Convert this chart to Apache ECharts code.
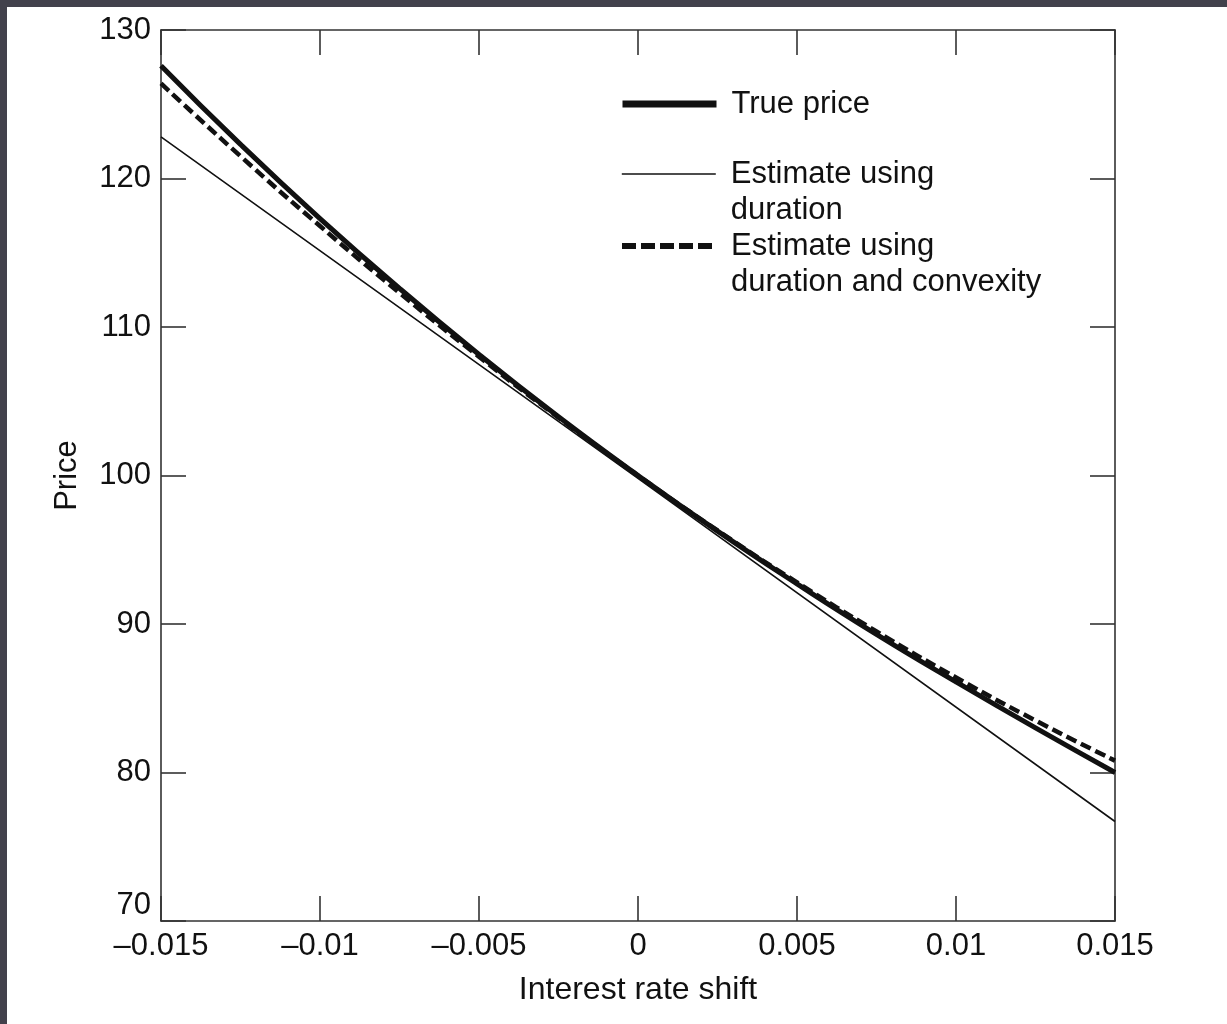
<!DOCTYPE html>
<html>
<head>
<meta charset="utf-8">
<script src="https://cdn.jsdelivr.net/npm/echarts@6/dist/echarts.min.js"></script>
<style>
html, body { margin: 0; padding: 0; background: #42414c; width: 1227px; height: 1024px; overflow: hidden; }
#chart { position: absolute; left: 7px; top: 7px; width: 1220px; height: 1017px; background: #ffffff; }
</style>
</head>
<body>
<div id="chart"></div>
<script>
// Data
const rateShifts = [-0.015, -0.0125, -0.01, -0.0075, -0.005, -0.0025, 0, 0.0025, 0.005, 0.0075, 0.01, 0.0125, 0.015];
const truePrice = [127.6, 122.3, 117.3, 112.6, 108.15, 103.95, 100, 96.25, 92.7, 89.3, 86.1, 83.0, 80.0];
const convexityEstimate = [126.4, 121.5, 116.8, 112.3, 108.0, 103.9, 100, 96.3, 92.8, 89.5, 86.4, 83.5, 80.8];
const durationShifts = [-0.015, 0, 0.015];
const durationEstimate = [122.8, 99.8, 76.7];
const xTickLabels = ['\u20130.015', '\u20130.01', '\u20130.005', '0', '0.005', '0.01', '0.015'];
const yTickLabels = ['70', '80', '90', '100', '110', '120', '130'];
const seriesNames = ['True price', 'Estimate using\nduration', 'Estimate using\nduration and convexity'];

const pairs = (xs, ys) => xs.map((x, i) => [x, ys[i]]);
const FONT = 'Liberation Sans, Arial, Helvetica, sans-serif';
const INK = '#111111';
const AX = '#333333';

const xLabelFor = v => {
  const idx = Math.round((v + 0.015) / 0.005);
  return xTickLabels[idx] !== undefined ? xTickLabels[idx] : '';
};
const yLabelFor = v => {
  const idx = Math.round((v - 70) / 10);
  return yTickLabels[idx] !== undefined ? yTickLabels[idx] : '';
};

const axisLineStyle = { show: true, onZero: false, lineStyle: { color: AX, width: 1.6 } };
const tickStyle = { show: true, inside: true, length: 25, lineStyle: { color: AX, width: 1.6 } };

const legendBase = {
  orient: 'vertical',
  itemWidth: 94,
  itemHeight: 14,
  padding: 0,
  selectedMode: false,
  itemStyle: { color: 'rgba(0,0,0,0)', borderColor: 'rgba(0,0,0,0)', borderWidth: 0, opacity: 0 },
  textStyle: { fontFamily: FONT, fontSize: 31, color: INK, lineHeight: 36, padding: [0, 0, 0, 10] }
};

const chart = echarts.init(document.getElementById('chart'), null, { renderer: 'canvas' });
chart.setOption({
  backgroundColor: '#ffffff',
  animation: false,
  grid: { left: 154, top: 23, right: 112, bottom: 103, containLabel: false },
  legend: [
    Object.assign({}, legendBase, {
      left: 612, top: 79,
      data: [seriesNames[0]],
      lineStyle: { width: 7 }
    }),
    Object.assign({}, legendBase, {
      left: 614, top: 113,
      data: [seriesNames[1]],
      lineStyle: { width: 1.6 },
      formatter: name => '\n' + name
    }),
    Object.assign({}, legendBase, {
      left: 612, top: 185,
      data: [seriesNames[2]],
      lineStyle: { width: 6, type: [14, 5] },
      formatter: name => '\n' + name
    })
  ],
  xAxis: [
    {
      type: 'value', min: -0.015, max: 0.015, interval: 0.005, position: 'bottom',
      name: 'Interest rate shift', nameLocation: 'middle', nameGap: 53,
      nameTextStyle: { fontFamily: FONT, fontSize: 32, color: INK },
      axisLine: axisLineStyle, axisTick: tickStyle, splitLine: { show: false },
      axisLabel: { fontFamily: FONT, fontSize: 31, color: INK, margin: 10, formatter: xLabelFor }
    },
    {
      type: 'value', min: -0.015, max: 0.015, interval: 0.005, position: 'top',
      axisLine: axisLineStyle, axisTick: tickStyle, splitLine: { show: false },
      axisLabel: { show: false }
    }
  ],
  yAxis: [
    {
      type: 'value', min: 70, max: 130, interval: 10, position: 'left',
      name: 'Price', nameLocation: 'middle', nameGap: 78, nameRotate: 90,
      nameTextStyle: { fontFamily: FONT, fontSize: 31, color: INK },
      axisLine: axisLineStyle, axisTick: tickStyle, splitLine: { show: false },
      axisLabel: { fontFamily: FONT, fontSize: 31, color: INK, margin: 10, formatter: yLabelFor, verticalAlignMinLabel: 'bottom' }
    },
    {
      type: 'value', min: 70, max: 130, interval: 10, position: 'right',
      axisLine: axisLineStyle, axisTick: tickStyle, splitLine: { show: false },
      axisLabel: { show: false }
    }
  ],
  series: [
    {
      name: seriesNames[0], type: 'line', smooth: true, showSymbol: false, symbol: 'none',
      data: pairs(rateShifts, truePrice), z: 3,
      lineStyle: { color: INK, width: 5 }, itemStyle: { color: INK }
    },
    {
      name: seriesNames[1], type: 'line', smooth: false, showSymbol: false, symbol: 'none',
      data: pairs(durationShifts, durationEstimate), z: 2,
      lineStyle: { color: INK, width: 1.6 }, itemStyle: { color: INK }
    },
    {
      name: seriesNames[2], type: 'line', smooth: true, showSymbol: false, symbol: 'none',
      data: pairs(rateShifts, convexityEstimate), z: 4,
      lineStyle: { color: INK, width: 4.5, type: [11, 5] }, itemStyle: { color: INK }
    }
  ]
});
</script>
</body>
</html>
